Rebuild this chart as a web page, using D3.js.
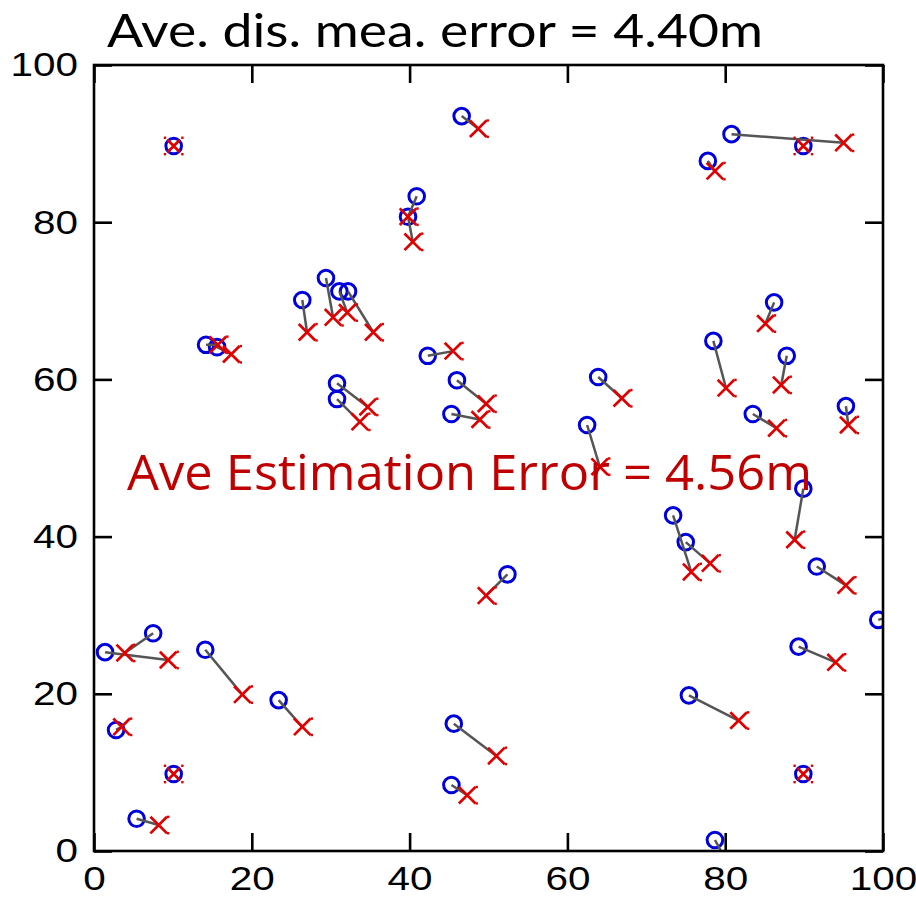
<!DOCTYPE html>
<html>
<head>
<meta charset="utf-8">
<script src="https://cdn.jsdelivr.net/npm/d3@7"></script>
<style>
html, body { margin: 0; padding: 0; background: #fff; }
svg { display: block; }
</style>
</head>
<body>
<div id="chart"></div>
<script>
// ---- data ----
const titleText = "Ave. dis. mea. error = 4.40m";
const noteText = "Ave Estimation Error = 4.56m";
const tickValues = [0, 20, 40, 60, 80, 100];

const anchorX = [10.1, 89.9, 10.1, 89.9];
const anchorY = [89.7, 89.7, 9.8, 9.8];

// true node positions (circles)
const trueX = [46.6, 80.8, 77.8, 40.9, 39.8, 26.4, 29.4, 31.1, 32.2, 14.2,
               15.6, 42.3, 46.0, 45.3, 30.8, 30.8, 63.9, 62.5, 52.4, 73.4,
               75.0, 78.5, 86.2, 87.8, 83.5, 95.3, 89.9, 91.6, 99.4, 89.3,
               75.4, 78.7, 1.4, 7.5, 14.1, 23.4, 2.8, 5.4, 45.6, 45.3];
const trueY = [93.5, 91.2, 87.8, 83.3, 80.7, 70.1, 72.9, 71.2, 71.2, 64.4,
               64.1, 63.0, 59.9, 55.6, 59.5, 57.5, 60.3, 54.2, 35.2, 42.7,
               39.3, 64.9, 69.8, 63.0, 55.6, 56.6, 46.1, 36.2, 29.4, 26.0,
               19.8, 1.4, 25.3, 27.7, 25.6, 19.2, 15.4, 4.1, 16.2, 8.4];
// estimated positions (crosses)
const estX = [48.7, 95.0, 78.7, 39.8, 40.4, 27.0, 30.3, 32.1, 35.4, 15.7,
              17.4, 45.5, 49.7, 48.9, 34.7, 33.7, 66.9, 64.1, 49.7, 75.7,
              78.1, 80.1, 85.1, 87.1, 86.5, 95.6, 88.8, 95.3, 100.8, 94.0,
              81.7, 79.8, 9.4, 3.9, 18.8, 26.4, 3.5, 8.2, 51.0, 47.3];
const estY = [91.9, 90.1, 86.5, 80.7, 77.5, 66.0, 67.9, 68.5, 66.0, 64.4,
              63.2, 63.6, 56.9, 54.9, 56.5, 54.6, 57.6, 48.9, 32.5, 35.5,
              36.6, 58.9, 67.1, 59.3, 53.8, 54.2, 39.6, 33.8, 29.8, 24.0,
              16.6, -0.6, 24.3, 25.2, 19.9, 15.8, 15.8, 3.3, 12.1, 7.1];

// ---- chart ----
const W = 916, H = 898;
const svg = d3.select("#chart").append("svg").attr("width", W).attr("height", H);

const x = d3.scaleLinear().domain([0, 100]).range([94, 883]);
const y = d3.scaleLinear().domain([0, 100]).range([851, 65]);

const blue = "#0000dd", red = "#e00000", gray = "#555555";

svg.append("defs").append("clipPath").attr("id", "plotclip")
  .append("rect")
  .attr("x", x(0)).attr("y", y(100))
  .attr("width", x(100) - x(0)).attr("height", y(0) - y(100));

const plot = svg.append("g").attr("clip-path", "url(#plotclip)");

const nodes = trueX.map((tx, i) => ({tx, ty: trueY[i], ex: estX[i], ey: estY[i]}));
const anchors = anchorX.map((ax, i) => ({ax, ay: anchorY[i]}));
const inside = v => v >= 0 && v <= 100;

// circles (true positions)
plot.selectAll("circle.node").data(nodes).enter().append("circle")
  .attr("class", "node")
  .attr("cx", d => x(d.tx)).attr("cy", d => y(d.ty)).attr("r", 7.8)
  .attr("fill", "none").attr("stroke", blue).attr("stroke-width", 3);

plot.selectAll("circle.anchor").data(anchors).enter().append("circle")
  .attr("class", "anchor")
  .attr("cx", d => x(d.ax)).attr("cy", d => y(d.ay)).attr("r", 7.8)
  .attr("fill", "none").attr("stroke", blue).attr("stroke-width", 3);

// error lines
plot.selectAll("line.err").data(nodes).enter().append("line")
  .attr("class", "err")
  .attr("x1", d => x(d.tx)).attr("y1", d => y(d.ty))
  .attr("x2", d => x(d.ex)).attr("y2", d => y(d.ey))
  .attr("stroke", gray).attr("stroke-width", 2.5);

// crosses (estimates) - markers with centres outside the axes are not drawn
const crossG = plot.selectAll("g.est").data(nodes.filter(d => inside(d.ex) && inside(d.ey)))
  .enter().append("g").attr("class", "est")
  .attr("transform", d => `translate(${x(d.ex)},${y(d.ey)})`);
const s = 8.3;
crossG.append("path")
  .attr("d", `M${-s},${-s}L${s},${s}M${-s},${s}L${s},${-s}`)
  .attr("stroke", red).attr("stroke-width", 2.7).attr("fill", "none");
crossG.selectAll("rect").data([[1, -1], [1, 1]]).enter().append("rect")
  .attr("x", d => d[0] * 9.5 - 1.2).attr("y", d => d[1] * 8.2 - 1.2)
  .attr("width", 2.4).attr("height", 2.4).attr("fill", red);

const anchorG = plot.selectAll("g.anc").data(anchors).enter().append("g")
  .attr("class", "anc")
  .attr("transform", d => `translate(${x(d.ax)},${y(d.ay)})`);
const a = 6;
anchorG.append("path")
  .attr("d", `M${-a},${-a}L${a},${a}M${-a},${a}L${a},${-a}`)
  .attr("stroke", red).attr("stroke-width", 2.7).attr("fill", "none");
anchorG.selectAll("rect").data([[1, -1], [1, 1], [-1, -1], [-1, 1]]).enter().append("rect")
  .attr("x", d => d[0] * 8.7 - 1.2).attr("y", d => d[1] * 8.2 - 1.2)
  .attr("width", 2.4).attr("height", 2.4).attr("fill", red);

// axes
const tickFont = "'Liberation Sans', Arial, sans-serif";
const styleAxis = g => {
  g.select(".domain").remove();
  g.selectAll(".tick line").attr("stroke", "#000").attr("stroke-width", 2.6);
  g.selectAll(".tick text")
    .attr("font-family", tickFont).attr("font-size", 34).attr("fill", "#000")
    .attr("textLength", function() { return this.textContent.length * 22.5; })
    .attr("lengthAdjust", "spacingAndGlyphs");
};
const bottomAxis = svg.append("g").attr("transform", `translate(0,${y(0)})`)
  .call(d3.axisBottom(x).tickValues(tickValues).tickFormat(d3.format("d"))
        .tickSizeInner(-18).tickSizeOuter(0).tickPadding(14))
  .call(styleAxis);
bottomAxis.selectAll(".tick text").attr("dy", null).attr("y", 39);
svg.append("g").attr("transform", `translate(${x(0)},0)`)
  .call(d3.axisLeft(y).tickValues(tickValues).tickFormat(d3.format("d"))
        .tickSizeInner(-18).tickSizeOuter(0).tickPadding(16))
  .call(styleAxis);
svg.append("g").attr("transform", `translate(0,${y(100)})`)
  .call(d3.axisTop(x).tickValues(tickValues).tickFormat("")
        .tickSizeInner(-18).tickSizeOuter(0))
  .call(styleAxis);
svg.append("g").attr("transform", `translate(${x(100)},0)`)
  .call(d3.axisRight(y).tickValues(tickValues).tickFormat("")
        .tickSizeInner(-18).tickSizeOuter(0))
  .call(styleAxis);

svg.append("rect")
  .attr("x", x(0)).attr("y", y(100))
  .attr("width", x(100) - x(0)).attr("height", y(0) - y(100))
  .attr("fill", "none").attr("stroke", "#000").attr("stroke-width", 2.6);

// texts
svg.append("text").text(titleText)
  .attr("x", 107).attr("y", 46.5)
  .attr("font-family", "Lato, 'Open Sans', sans-serif").attr("font-size", 46)
  .attr("textLength", 656).attr("lengthAdjust", "spacingAndGlyphs")
  .attr("fill", "#000");

svg.append("text").text(noteText)
  .attr("x", 127).attr("y", 490)
  .attr("font-family", "'Open Sans', 'Noto Sans', sans-serif").attr("font-size", 50)
  .attr("textLength", 685).attr("lengthAdjust", "spacingAndGlyphs")
  .attr("fill", "#c00000");
</script>
</body>
</html>
